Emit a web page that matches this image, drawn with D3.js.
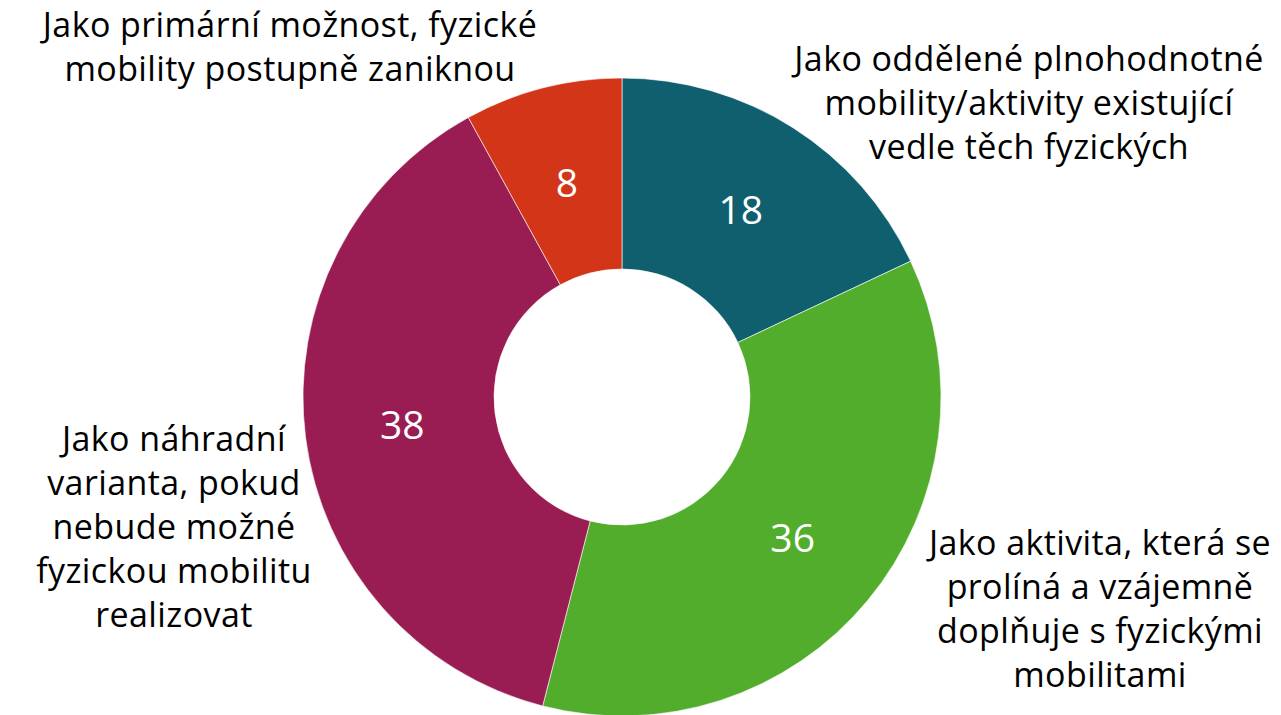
<!DOCTYPE html>
<html><head><meta charset="utf-8">
<script src="https://cdn.jsdelivr.net/npm/d3@7/dist/d3.min.js"></script>
<style>html,body{margin:0;padding:0;background:#fff;overflow:hidden}</style>
</head><body>
<svg id="c" width="1281" height="715"></svg>
<script>
const categories = [
  "Jako oddělené plnohodnotné mobility/aktivity existující vedle těch fyzických",
  "Jako aktivita, která se prolíná a vzájemně doplňuje s fyzickými mobilitami",
  "Jako náhradní varianta, pokud nebude možné fyzickou mobilitu realizovat",
  "Jako primární možnost, fyzické mobility postupně zaniknou"
];
const values = [18, 36, 38, 8];
const colors = ["#0f5f6f", "#52ad2d", "#991c53", "#d33518"];
const labelLines = [
  ["Jako oddělené plnohodnotné", "mobility/aktivity existující", "vedle těch fyzických"],
  ["Jako aktivita, která se", "prolíná a vzájemně", "doplňuje s fyzickými", "mobilitami"],
  ["Jako náhradní", "varianta, pokud", "nebude možné", "fyzickou mobilitu", "realizovat"],
  ["Jako primární možnost, fyzické", "mobility postupně zaniknou"]
];
// layout: label anchor positions (centre x, first baseline y)
const labelPos = [[1029, 71], [1100, 555], [174, 451], [290, 37]];

const svg = d3.select("#c");
const cx = 622, cy = 397, R = 319, r = 128;
const font = "'Open Sans', 'Noto Sans', sans-serif";
const g = svg.append("g").attr("transform", `translate(${cx},${cy})`);
const pie = d3.pie().sort(null).value(d => d);
const arcs = pie(values);
const arc = d3.arc().innerRadius(r).outerRadius(R);
const labArc = d3.arc().innerRadius((r + R) / 2 - 2).outerRadius((r + R) / 2 - 2);

g.selectAll("path").data(arcs).join("path")
  .attr("d", arc).attr("fill", (d, i) => colors[i])
  .attr("stroke", "#fff").attr("stroke-width", 0.6);

g.selectAll("text.v").data(arcs).join("text").attr("class", "v")
  .attr("transform", d => `translate(${labArc.centroid(d)})`)
  .attr("text-anchor", "middle").attr("dy", "0.36em")
  .attr("font-family", font).attr("font-size", 39).attr("fill", "#fff")
  .text(d => d.data);

labelLines.forEach((lines, i) => {
  const t = svg.append("text").attr("text-anchor", "middle")
    .attr("font-family", font).attr("font-size", 34)
    .attr("letter-spacing", "0.4px").attr("fill", "#000");
  lines.forEach((ln, j) => {
    t.append("tspan").attr("x", labelPos[i][0]).attr("y", labelPos[i][1] + j * 44).text(ln);
  });
});
</script>
</body></html>
